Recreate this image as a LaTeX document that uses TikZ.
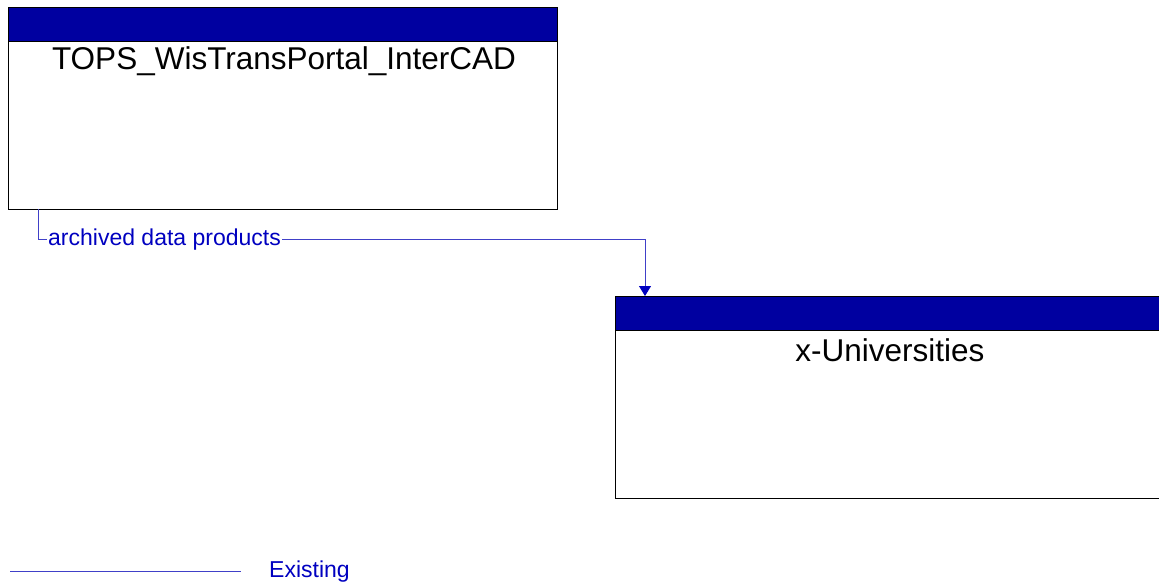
\documentclass[tikz,border=0pt]{standalone}
\usepackage{fontspec}
\setmainfont{Liberation Sans}
\usetikzlibrary{arrows.meta,calc}
\definecolor{hdr}{RGB}{0,0,160}
\definecolor{flow}{RGB}{0,0,192}
\definecolor{flowline}{RGB}{64,64,200}
\tikzset{
  entity/.style={draw=black, line width=0.8pt, fill=white, minimum width=549pt, minimum height=202pt, inner sep=0pt, outer sep=0pt},
  header/.style={draw=black, line width=0.8pt, fill=hdr, minimum width=549pt, minimum height=34pt, inner sep=0pt, outer sep=0pt},
  title/.style={font=\fontsize{31.5}{36}\selectfont, text=black, inner sep=0pt},
  flowlbl/.style={font=\fontsize{23}{27}\selectfont, text=flow, inner sep=0pt},
  flowarrow/.style={draw=flowline, line width=0.9pt, -{Triangle[length=10pt,width=12pt,color=flow]}},
}
\begin{document}
\begin{tikzpicture}[x=1pt,y=-1pt]
\useasboundingbox (0,0) rectangle (1159,583);
\clip (0,0) rectangle (1159,583);
% box 1
\node[entity, anchor=north west] (tops) at (8,7) {};
\node[header, anchor=north west] (topsh) at (8,7) {};
\node[title] (topst) at (284,61) {TOPS\_WisTransPortal\_InterCAD};
% box 2
\node[entity, anchor=north west] (univ) at (615,296) {};
\node[header, anchor=north west] (univh) at (615,296) {};
\node[title] (univt) at (890,350) {x-Universities};
% connector
\coordinate (s) at (38,209);
\coordinate (b1) at (38,239);
\coordinate (b2) at (645,239);
\coordinate (e) at (645,296);
\node[flowlbl, anchor=west, fill=white, inner xsep=1pt] (lbl) at (47,240) {archived data products};
\draw[flowline, line width=0.9pt] (s) -- (b1) -- (lbl.west |- b1);
\draw[flowarrow] (lbl.east |- b1) -- (b2) -- (e);
% legend
\coordinate (l1) at (10,571);
\coordinate (l2) at (241,571);
\draw[flowline, line width=0.9pt] (l1) -- (l2);
\node[flowlbl, anchor=west] (leg) at (269,572) {Existing};
\end{tikzpicture}
\end{document}
